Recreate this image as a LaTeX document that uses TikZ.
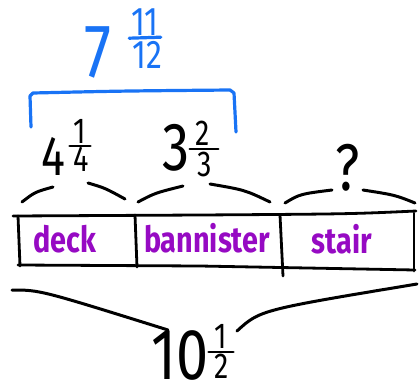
\documentclass[tikz,border=0pt]{standalone}
\usepackage{fontspec}
\setmainfont{Fira Sans}
\newfontfamily\handfont[FakeStretch=0.8]{Fira Sans}
\usetikzlibrary{calc}
\definecolor{markerblue}{RGB}{25,115,245}
\definecolor{markerpurple}{RGB}{150,10,195}
\tikzset{
  every node/.style={inner sep=0pt},
  stroke/.style={line width=2.8pt, line cap=round, line join=round},
  brace/.style={stroke, line width=3pt},
  blue stroke/.style={stroke, draw=markerblue, line width=3.2pt},
  digits/.style={anchor=base, text height=0.6em, text depth=0pt},
  whole/.style={digits, font=\handfont\fontsize{56}{56}\selectfont},
  frac digit/.style={digits, font=\handfont\fontsize{36}{36}\selectfont},
  part label/.style={anchor=base, text=markerpurple,
    font=\handfont\bfseries\fontsize{36}{36}\selectfont},
  bar/.style={stroke, line width=2.4pt}
}
\begin{document}
\begin{tikzpicture}[x=1pt,y=1pt]
  \useasboundingbox (0,0) rectangle (420,-383);

  % total of the first two parts
  \node[whole, text=markerblue, font=\handfont\fontsize{76}{76}\selectfont]
    (sevenwhole) at (98,-77) {7};
  \node[frac digit, text=markerblue, font=\handfont\fontsize{40}{40}\selectfont]
    (sevennum) at (145,-35) {11};
  \node[frac digit, text=markerblue, font=\handfont\fontsize{40}{40}\selectfont]
    (sevenden) at (147,-68) {12};
  \draw[blue stroke] ($(sevennum.south west)+(-2,-3)$)
    -- ($(sevennum.south east)+(2,-2)$);
  \draw[blue stroke] (31,-127) -- (30,-96) -- (33,-93)
    .. controls (120,-91) .. (230,-90) -- (234,-93) -- (236,-132);

  % the tape
  \draw[stroke] (13,-216) -- (200,-215) .. controls (350,-214) .. (416,-211);
  \draw[stroke] (18,-265) -- (200,-266) -- (415,-270);
  \draw[stroke] (18,-216) -- (20,-266);
  \draw[stroke] (135,-215) -- (137,-267);
  \draw[stroke] (280,-215) -- (283,-276);
  \draw[stroke] (414,-213) -- (414,-271);

  \node[part label] (deck) at (65,-252) {deck};
  \node[part label] (bannister) at (207,-252) {bannister};
  \node[part label] (stair) at (342,-253) {stair};

  % parts
  \node[whole] (fourwhole) at (53,-175) {4};
  \node[frac digit] (fournum) at (80,-143) {1};
  \node[frac digit] (fourden) at (81,-171) {4};
  \draw[bar] ($(fournum.south west)+(-4,-3)$) -- ($(fournum.south east)+(4,-3)$);
  \node[whole, font=\handfont\fontsize{68}{68}\selectfont]
    (threewhole) at (176,-170) {3};
  \node[frac digit] (threenum) at (203,-145) {2};
  \node[frac digit] (threeden) at (205,-176) {3};
  \draw[bar] ($(threenum.south west)+(-6,-4)$) -- ($(threenum.south east)+(8,-4)$);
  \node[whole, font=\handfont\fontsize{66}{66}\selectfont] (unknown) at (348,-190) {?};

  \draw[brace] (22,-202) .. controls (35,-192) .. (53,-187);
  \draw[brace] (88,-183) .. controls (105,-188) .. (125,-199);
  \draw[brace] (138,-202) .. controls (155,-193) .. (183,-186);
  \draw[brace] (210,-184) .. controls (245,-190) .. (270,-202);
  \draw[brace] (285,-203) .. controls (300,-194) .. (332,-190);
  \draw[brace] (363,-190) .. controls (395,-195) .. (415,-203);

  % whole tape
  \draw[brace] (12,-290) .. controls (40,-290) .. (168,-330);
  \draw[brace] (237,-331) .. controls (260,-310) .. (417,-284);
  \node[whole, font=\handfont\fontsize{72}{72}\selectfont] (tenwhole) at (180,-379) {10};
  \node[frac digit] (tennum) at (221,-348) {1};
  \node[frac digit] (tenden) at (222,-378) {2};
  \draw[bar] ($(tennum.south west)+(-6,-4)$) -- ($(tennum.south east)+(6,-4)$);
\end{tikzpicture}
\end{document}
